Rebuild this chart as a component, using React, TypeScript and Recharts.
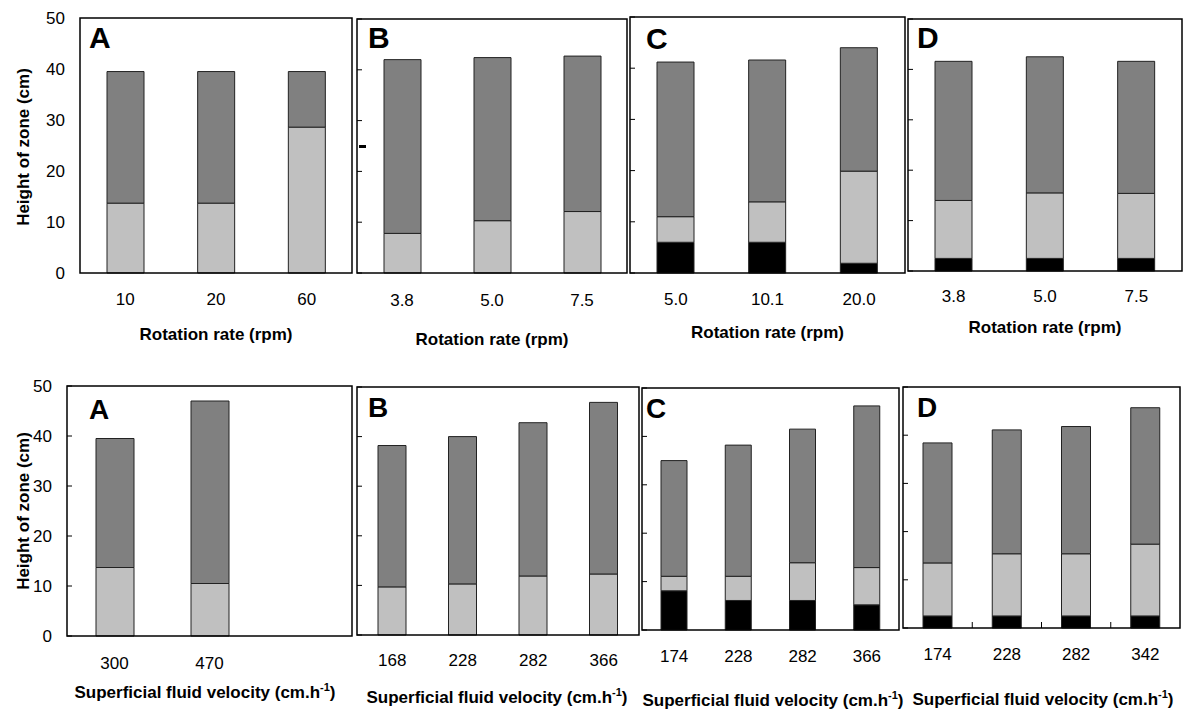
import React from 'react';
import { BarChart, Bar, XAxis, YAxis } from 'recharts';

// rotation-rate experiments (top row)
const rotACats = ['10', '20', '60'];
const rotALight = [13.7, 13.7, 28.6];
const rotADark = [25.8, 25.8, 10.9];

const rotBCats = ['3.8', '5.0', '7.5'];
const rotBLight = [7.8, 10.3, 12.1];
const rotBDark = [34.2, 32.1, 30.6];

const rotCCats = ['5.0', '10.1', '20.0'];
const rotCBlack = [6.0, 6.0, 1.9];
const rotCLight = [5.0, 7.9, 18.0];
const rotCDark = [30.2, 27.7, 24.1];

const rotDCats = ['3.8', '5.0', '7.5'];
const rotDBlack = [2.5, 2.5, 2.5];
const rotDLight = [11.5, 13.0, 12.9];
const rotDDark = [27.6, 27.0, 26.2];

// superficial fluid velocity experiments (bottom row)
const velACats = ['300', '470', ''];
const velALight = [13.7, 10.5, null];
const velADark = [25.8, 36.5, null];

const velBCats = ['168', '228', '282', '366'];
const velBLight = [9.7, 10.3, 11.9, 12.3];
const velBDark = [28.5, 29.7, 30.9, 34.6];

const velCCats = ['174', '228', '282', '366'];
const velCBlack = [8.1, 6.1, 6.1, 5.2];
const velCLight = [3.0, 5.0, 7.8, 7.7];
const velCDark = [23.9, 27.1, 27.6, 33.4];

const velDCats = ['174', '228', '282', '342'];
const velDBlack = [2.5, 2.5, 2.5, 2.5];
const velDLight = [11.0, 12.9, 12.9, 14.9];
const velDDark = [24.9, 25.7, 26.4, 28.3];

const yTicks = [0, 10, 20, 30, 40, 50];

const FONT = 'Arial, "Liberation Sans", Helvetica, sans-serif';
const DARK = '#808080';
const LIGHT = '#c0c0c0';
const BLACK = '#000000';
const EDGE = '#222222';
const TOP = 12;

type PanelProps = {
  x: number;
  y: number;
  w: number;
  h: number;
  cats: string[];
  black?: (number | null)[];
  light: (number | null)[];
  dark: (number | null)[];
  barSize: number;
  yLabels?: boolean;
  yTickLines?: boolean;
  xGap: number;
  boundaryTicks?: boolean;
};

const Panel = ({ x, y, w, h, cats, black, light, dark, barSize, yLabels, yTickLines = true, xGap, boundaryTicks }: PanelProps) => {
  const yw = yLabels ? 45 : 1;
  const band = w / cats.length;
  const rows = cats.map((c, i) => ({
    cat: c,
    black: black ? black[i] : null,
    light: light[i],
    dark: dark[i],
  }));

  // x tick: category label, plus an upward mark at the category boundary if asked
  const CatTick = (p: any) => (
    <g>
      <text x={p.x} y={p.y} dy="0.71em" textAnchor="middle" fontSize={17} fill="#000" fontFamily={FONT}>
        {p.payload.value}
      </text>
      {boundaryTicks && p.index < cats.length - 1 && (
        <line x1={p.x + band / 2} x2={p.x + band / 2} y1={p.y - xGap} y2={p.y - xGap - 6} stroke="#000" strokeWidth={1} />
      )}
    </g>
  );

  // y tick: short mark pointing into the box, number outside it
  const ValTick = (p: any) => (
    <g>
      {yTickLines && <line x1={p.x} x2={p.x + 5} y1={p.y} y2={p.y} stroke="#000" strokeWidth={1} />}
      {yLabels && (
        <text x={p.x - 15} y={p.y} dy="0.355em" textAnchor="end" fontSize={17} fill="#000" fontFamily={FONT}>
          {p.payload.value}
        </text>
      )}
    </g>
  );

  return (
    <div style={{ position: 'absolute', left: x - yw, top: y - TOP }}>
      <BarChart width={w + yw} height={h + 40 + TOP} data={rows} margin={{ top: TOP, right: 0, bottom: 0, left: 0 }}>
        <XAxis
          dataKey="cat"
          height={40}
          axisLine={false}
          tickLine={false}
          tickSize={0}
          tickMargin={xGap}
          interval={0}
          tick={CatTick}
        />
        <YAxis
          domain={[0, 50]}
          ticks={yTicks}
          width={yw}
          axisLine={false}
          tickLine={false}
          tickSize={0}
          tickMargin={0}
          tick={ValTick}
          interval={0}
        />
        {black && (
          <Bar dataKey="black" stackId="z" fill={BLACK} stroke={EDGE} strokeWidth={1} barSize={barSize} isAnimationActive={false} />
        )}
        <Bar dataKey="light" stackId="z" fill={LIGHT} stroke={EDGE} strokeWidth={1} barSize={barSize} isAnimationActive={false} />
        <Bar dataKey="dark" stackId="z" fill={DARK} stroke={EDGE} strokeWidth={1} barSize={barSize} isAnimationActive={false} />
      </BarChart>
    </div>
  );
};

const boxes = [
  { x: 80, y: 18, w: 272, h: 255 },
  { x: 357, y: 19, w: 270, h: 254 },
  { x: 630, y: 17, w: 275, h: 256 },
  { x: 908, y: 19, w: 274, h: 252 },
  { x: 67, y: 386, w: 285, h: 250 },
  { x: 357, y: 387, w: 282, h: 248 },
  { x: 642, y: 388, w: 257, h: 242 },
  { x: 903, y: 387, w: 277, h: 241 },
];

const letters = ['A', 'B', 'C', 'D', 'A', 'B', 'C', 'D'];
const letterPos = [
  [89, 48, 30], [368, 48, 30], [646, 49, 30], [917, 48, 30],
  [89, 419, 28], [368, 417, 28], [646, 418, 28], [917, 417, 28],
];

const rotTitleY = [340, 345, 338, 333];
const velTitle = [
  [205, 698], [497, 703], [773, 706], [1043, 705],
];

export default function App() {
  const b = boxes;
  return (
    <div style={{ position: 'absolute', left: 0, top: 0, width: 1183, height: 713, background: '#fff', fontFamily: FONT, overflow: 'hidden' }}>
      <Panel {...b[0]} cats={rotACats} light={rotALight} dark={rotADark} barSize={37} yLabels yTickLines={false} xGap={20} />
      <Panel {...b[1]} cats={rotBCats} light={rotBLight} dark={rotBDark} barSize={37} xGap={21} />
      <Panel {...b[2]} cats={rotCCats} black={rotCBlack} light={rotCLight} dark={rotCDark} barSize={37} xGap={20} />
      <Panel {...b[3]} cats={rotDCats} black={rotDBlack} light={rotDLight} dark={rotDDark} barSize={37} xGap={19} />
      <Panel {...b[4]} cats={velACats} light={velALight} dark={velADark} barSize={38} yLabels xGap={21} />
      <Panel {...b[5]} cats={velBCats} light={velBLight} dark={velBDark} barSize={28} xGap={19} />
      <Panel {...b[6]} cats={velCCats} black={velCBlack} light={velCLight} dark={velCDark} barSize={26} xGap={20} />
      <Panel {...b[7]} cats={velDCats} black={velDBlack} light={velDLight} dark={velDDark} barSize={29} xGap={20} boundaryTicks />

      <svg width={1183} height={713} style={{ position: 'absolute', left: 0, top: 0, pointerEvents: 'none' }}>
        {b.map((r, i) => (
          <rect key={i} x={r.x} y={r.y} width={r.w} height={r.h} fill="none" stroke="#000" strokeWidth={1.5} />
        ))}
        <rect x={359} y={145} width={7} height={3} fill="#000" />
        {letters.map((l, i) => (
          <text key={i} x={letterPos[i][0]} y={letterPos[i][1]} fontSize={letterPos[i][2]} fontWeight="bold" fill="#000" fontFamily={FONT}>
            {l}
          </text>
        ))}
        {[0, 1, 2, 3].map((i) => (
          <text key={'r' + i} x={b[i].x + b[i].w / 2} y={rotTitleY[i]} textAnchor="middle" fontSize={17} fontWeight="bold" fill="#000" fontFamily={FONT}>
            Rotation rate (rpm)
          </text>
        ))}
        {velTitle.map((p, i) => (
          <text key={'v' + i} x={p[0]} y={p[1]} textAnchor="middle" fontSize={17} fontWeight="bold" fill="#000" fontFamily={FONT}>
            Superficial fluid velocity (cm.h
            <tspan dy={-7} fontSize={11}>-1</tspan>
            <tspan dy={7}>)</tspan>
          </text>
        ))}
        <text transform="translate(29,147) rotate(-90)" textAnchor="middle" fontSize={17} fontWeight="bold" fill="#000" fontFamily={FONT}>
          Height of zone (cm)
        </text>
        <text transform="translate(29,511) rotate(-90)" textAnchor="middle" fontSize={17} fontWeight="bold" fill="#000" fontFamily={FONT}>
          Height of zone (cm)
        </text>
      </svg>
    </div>
  );
}
